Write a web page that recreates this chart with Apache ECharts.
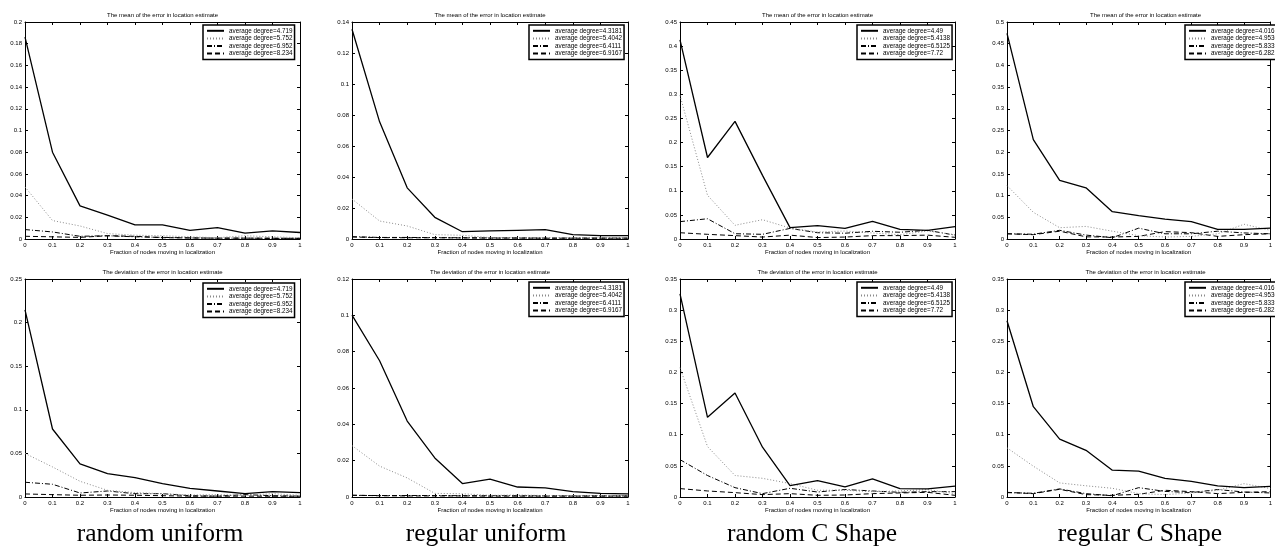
<!DOCTYPE html>
<html>
<head>
<meta charset="utf-8">
<script src="https://cdn.jsdelivr.net/npm/echarts@6/dist/echarts.min.js"></script>
<style>
  html, body { margin: 0; background: #fff; }
  #chart { width: 1275px; height: 550px; }
</style>
</head>
<body>
<div id="chart"></div>
<script>
// x values shared by every panel
const fractions = [0, 0.1, 0.2, 0.3, 0.4, 0.5, 0.6, 0.7, 0.8, 0.9, 1]

// legend labels per column
const degreesRandUni = ['average degree=4.719', 'average degree=5.752', 'average degree=6.952', 'average degree=8.234']
const degreesRegUni = ['average degree=4.3181', 'average degree=5.4042', 'average degree=6.4111', 'average degree=6.9167']
const degreesRandC = ['average degree=4.49', 'average degree=5.4138', 'average degree=6.5125', 'average degree=7.72']
const degreesRegC = ['average degree=4.0161', 'average degree=4.9536', 'average degree=5.8339', 'average degree=6.2821']

const captions = ['random uniform', 'regular uniform', 'random C Shape', 'regular C Shape']
const meanTitle = 'The mean of the error in location estimate'
const devTitle = 'The deviation of the error in location estimate'
const xName = 'Fraction of nodes moving in localization'

// mean of the error (top row), 4 series each: solid, dotted, dash-dot, dashed
const meanRandUni = [
    [0.186, 0.080, 0.0305, 0.022, 0.013, 0.013, 0.008, 0.0105, 0.0055, 0.0075, 0.006],
    [0.048, 0.017, 0.012, 0.005, 0.0035, 0.003, 0.002, 0.0012, 0.003, 0.002, 0.0012],
    [0.0087, 0.0065, 0.0025, 0.003, 0.002, 0.0015, 0.001, 0.0008, 0.0008, 0.0006, 0.0006],
    [0.0025, 0.002, 0.0015, 0.003, 0.0025, 0.0012, 0.001, 0.0008, 0.0008, 0.0007, 0.0006]
]
const meanRegUni = [
    [0.1353, 0.0756, 0.033, 0.014, 0.0047, 0.0052, 0.0056, 0.006, 0.0028, 0.0022, 0.0022],
    [0.0258, 0.0116, 0.0084, 0.0028, 0.0024, 0.0009, 0.0008, 0.0008, 0.0007, 0.0007, 0.0007],
    [0.0015, 0.001, 0.001, 0.0009, 0.0008, 0.0007, 0.0007, 0.0006, 0.0006, 0.0006, 0.0006],
    [0.0013, 0.0009, 0.0008, 0.0008, 0.0007, 0.0006, 0.0006, 0.0005, 0.0005, 0.0005, 0.0005]
]
const meanRandC = [
    [0.413, 0.169, 0.244, 0.132, 0.0235, 0.0277, 0.022, 0.0367, 0.020, 0.018, 0.0256],
    [0.298, 0.0907, 0.0284, 0.040, 0.0228, 0.0145, 0.0166, 0.0125, 0.009, 0.0166, 0.009],
    [0.036, 0.042, 0.011, 0.0097, 0.022, 0.013, 0.012, 0.016, 0.014, 0.018, 0.008],
    [0.013, 0.0097, 0.007, 0.004, 0.008, 0.003, 0.004, 0.007, 0.007, 0.008, 0.0035]
]
const meanRegC = [
    [0.474, 0.229, 0.135, 0.118, 0.063, 0.054, 0.046, 0.040, 0.022, 0.022, 0.025],
    [0.123, 0.0615, 0.026, 0.029, 0.018, 0.0077, 0.0046, 0.006, 0.012, 0.034, 0.02],
    [0.012, 0.011, 0.02, 0.009, 0.003, 0.025, 0.012, 0.012, 0.018, 0.014, 0.012],
    [0.012, 0.010, 0.018, 0.005, 0.0046, 0.006, 0.017, 0.0146, 0.006, 0.01, 0.012]
]

// deviation of the error (bottom row)
const devRandUni = [
    [0.2147, 0.078, 0.038, 0.0268, 0.0222, 0.0153, 0.01, 0.0069, 0.0038, 0.0061, 0.005],
    [0.05, 0.0345, 0.018, 0.0077, 0.005, 0.0038, 0.0023, 0.0027, 0.002, 0.0038, 0.002],
    [0.0169, 0.0146, 0.0046, 0.0069, 0.0038, 0.0038, 0.0015, 0.001, 0.0027, 0.0015, 0.001],
    [0.0035, 0.0027, 0.002, 0.0023, 0.002, 0.0015, 0.001, 0.001, 0.001, 0.0009, 0.0009]
]
const devRegUni = [
    [0.1001, 0.075, 0.0418, 0.0215, 0.0074, 0.0098, 0.0055, 0.005, 0.003, 0.002, 0.0017],
    [0.0283, 0.017, 0.0105, 0.002, 0.0018, 0.0009, 0.0011, 0.0008, 0.0008, 0.0008, 0.0008],
    [0.0009, 0.0008, 0.0008, 0.0008, 0.0007, 0.0007, 0.0007, 0.0006, 0.0006, 0.0006, 0.0006],
    [0.001, 0.0007, 0.0006, 0.0006, 0.0006, 0.0005, 0.0005, 0.0005, 0.0005, 0.0005, 0.0005]
]
const devRandC = [
    [0.326, 0.128, 0.167, 0.080, 0.0183, 0.0264, 0.0162, 0.029, 0.0135, 0.013, 0.0173],
    [0.2077, 0.081, 0.0345, 0.030, 0.0216, 0.0108, 0.0108, 0.0086, 0.0097, 0.0119, 0.0054],
    [0.06, 0.0345, 0.015, 0.0054, 0.014, 0.008, 0.012, 0.0097, 0.0075, 0.0086, 0.0086],
    [0.0135, 0.0097, 0.007, 0.0038, 0.0054, 0.0027, 0.0032, 0.0054, 0.0065, 0.0075, 0.0027]
]
const devRegC = [
    [0.283, 0.145, 0.093, 0.075, 0.043, 0.0415, 0.030, 0.025, 0.018, 0.015, 0.017],
    [0.079, 0.0495, 0.0226, 0.018, 0.014, 0.0054, 0.0038, 0.0065, 0.0108, 0.0215, 0.0135],
    [0.007, 0.006, 0.013, 0.0054, 0.002, 0.015, 0.009, 0.007, 0.012, 0.008, 0.0065],
    [0.0075, 0.0054, 0.0124, 0.0038, 0.0027, 0.0043, 0.0108, 0.0086, 0.0054, 0.0075, 0.0086]
]

// y axis ranges per panel
const yMax = [0.2, 0.14, 0.45, 0.5, 0.25, 0.12, 0.35, 0.35]
const yStep = [0.02, 0.02, 0.05, 0.05, 0.05, 0.02, 0.05, 0.05]

const font = '"Liberation Sans", Arial, Helvetica, sans-serif'

// layout of each panel (plot box in pixels) and its legend box
const panels = [
    { data: meanRandUni, names: degreesRandUni, title: meanTitle, left: 25, top: 22, width: 275, height: 217, lx: 203, ly: 25 },
    { data: meanRegUni, names: degreesRegUni, title: meanTitle, left: 352, top: 22, width: 276, height: 217, lx: 529, ly: 25 },
    { data: meanRandC, names: degreesRandC, title: meanTitle, left: 680, top: 22, width: 275, height: 217, lx: 857, ly: 25 },
    { data: meanRegC, names: degreesRegC, title: meanTitle, left: 1007, top: 22, width: 277, height: 217, lx: 1185, ly: 25 },
    { data: devRandUni, names: degreesRandUni, title: devTitle, left: 25, top: 279, width: 275, height: 218, lx: 203, ly: 283 },
    { data: devRegUni, names: degreesRegUni, title: devTitle, left: 352, top: 279, width: 276, height: 218, lx: 529, ly: 282 },
    { data: devRandC, names: degreesRandC, title: devTitle, left: 680, top: 279, width: 275, height: 218, lx: 857, ly: 282 },
    { data: devRegC, names: degreesRegC, title: devTitle, left: 1007, top: 279, width: 277, height: 218, lx: 1185, ly: 282 }
]
const captionX = [160, 486, 812, 1140]

const lineStyles = [
    { color: '#000', width: 1.3, type: 'solid' },
    { color: '#8a8a8a', width: 1, type: [1, 2] },
    { color: '#000', width: 1, type: [5, 2, 1, 2] },
    { color: '#000', width: 1, type: [5, 3] }
]

const fmt = v => String(parseFloat(v.toFixed(3)))

const grid = [], xAxis = [], yAxis = [], series = [], legend = [], graphic = []

panels.forEach((p, i) => {
    grid.push({ left: p.left, top: p.top, width: p.width, height: p.height })
    const axisLine = { show: true, onZero: false, lineStyle: { color: '#000', width: 1 } }
    const tick = { show: true, inside: true, length: 3, lineStyle: { color: '#000', width: 1 } }
    const label = { color: '#000', fontSize: 6, fontFamily: font, formatter: fmt }
    xAxis.push({
        type: 'value', gridIndex: i, min: 0, max: 1, interval: 0.1, position: 'bottom',
        axisLine, axisTick: tick, splitLine: { show: false },
        axisLabel: Object.assign({ margin: 3 }, label),
        name: xName, nameLocation: 'middle', nameGap: 9,
        nameTextStyle: { color: '#000', fontSize: 6, fontFamily: font }
    })
    xAxis.push({
        type: 'value', gridIndex: i, min: 0, max: 1, interval: 0.1, position: 'top',
        axisLine, axisTick: tick, splitLine: { show: false }, axisLabel: { show: false }
    })
    yAxis.push({
        type: 'value', gridIndex: i, min: 0, max: yMax[i], interval: yStep[i], position: 'left',
        axisLine, axisTick: tick, splitLine: { show: false },
        axisLabel: Object.assign({ margin: 3 }, label)
    })
    yAxis.push({
        type: 'value', gridIndex: i, min: 0, max: yMax[i], interval: yStep[i], position: 'right',
        axisLine, axisTick: tick, splitLine: { show: false }, axisLabel: { show: false }
    })
    p.data.forEach((vals, k) => {
        series.push({
            type: 'line', name: p.names[k], xAxisIndex: 2 * i, yAxisIndex: 2 * i,
            symbol: 'none', silent: true, clip: true,
            data: fractions.map((x, j) => [x, vals[j]]),
            lineStyle: lineStyles[k], itemStyle: { color: lineStyles[k].color },
            z: 4 - k
        })
    })
    legend.push({
        data: p.names, orient: 'vertical', left: p.lx, top: p.ly,
        itemWidth: 17, itemHeight: 6, itemGap: 0, padding: [2, 2, 2, 3],
        borderColor: '#000', borderWidth: 1.5, backgroundColor: '#fff',
        selectedMode: false,
        // hide the marker circle, keep only the line sample
        itemStyle: { opacity: 0, color: 'rgba(0,0,0,0)', borderWidth: 0 },
        textStyle: { color: '#000', fontSize: 6.3, lineHeight: 7.6, fontFamily: font }
    })
    graphic.push({
        type: 'text', x: p.left + p.width / 2, y: p.top - 7,
        style: { text: p.title, fill: '#000', font: '6px ' + font, textAlign: 'center', textVerticalAlign: 'middle' }
    })
})

captions.forEach((c, i) => {
    graphic.push({
        type: 'text', x: captionX[i], y: 534,
        style: { text: c, fill: '#000', font: '25.5px "Liberation Serif", "Times New Roman", serif', textAlign: 'center', textVerticalAlign: 'middle' }
    })
})

const chart = echarts.init(document.getElementById('chart'))
chart.setOption({
    backgroundColor: '#fff',
    animation: false,
    grid, xAxis, yAxis, series, legend, graphic
})
</script>
</body>
</html>
